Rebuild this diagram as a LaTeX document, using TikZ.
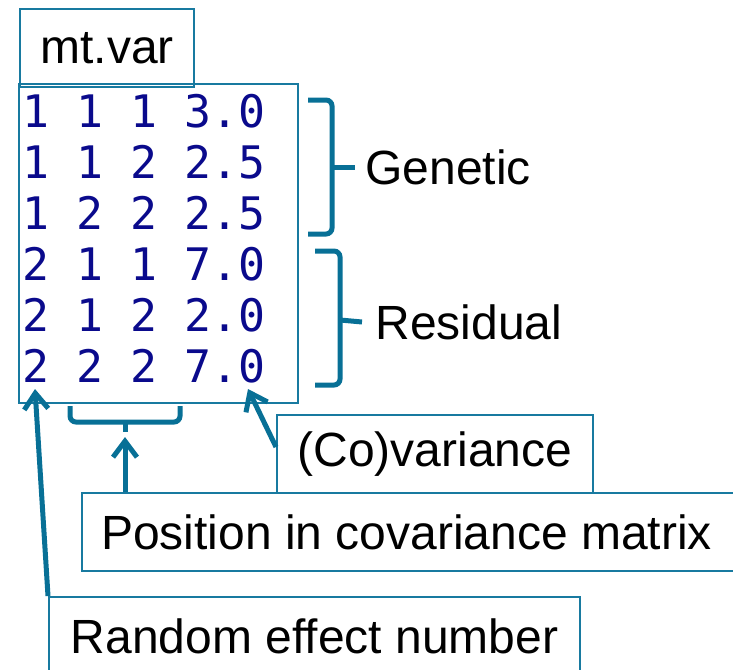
\documentclass[tikz,border=0pt]{standalone}
\usepackage{fontspec}
\setmainfont{Liberation Sans}
\newfontfamily\termfont{DejaVu Sans Mono}
\usepackage{tikz}
\usetikzlibrary{arrows.meta,positioning,calc}
\usepackage{xcolor}
\definecolor{frameblue}{RGB}{24,122,160}
\definecolor{markblue}{RGB}{8,112,150}
\definecolor{termnavy}{RGB}{10,10,140}

\begin{document}
\begin{tikzpicture}[
  x=0.5pt, y=-0.5pt,
  labelbox/.style={draw=frameblue, line width=1pt, inner sep=0pt, font=\fontsize{24}{28}\selectfont},
  termrow/.style={anchor=base west, inner sep=0pt, text=termnavy, font=\termfont\fontsize{22.4}{26}\selectfont},
  sidelabel/.style={anchor=west, inner sep=0pt, font=\fontsize{24}{28}\selectfont},
  pointer/.style={draw=markblue, line width=2.5pt, -{Straight Barb[length=8pt,width=12pt]}},
  bracket/.style={draw=markblue, line width=2.5pt, rounded corners=3pt}
]
\useasboundingbox (0,0) rectangle (733,669);

% File name and its contents
\node[labelbox, minimum width=87pt, minimum height=39pt] (title) at (107,48) {mt.var};
\node[draw=frameblue, line width=1pt, minimum width=139.5pt, minimum height=159.5pt] (table) at (158.5,243.5) {};
\node[termrow] (row1) at (22,127) {1 1 1 3.0};
\node[termrow] (row2) at (22,178) {1 1 2 2.5};
\node[termrow] (row3) at (22,229) {1 2 2 2.5};
\node[termrow] (row4) at (22,280) {2 1 1 7.0};
\node[termrow] (row5) at (22,331) {2 1 2 2.0};
\node[termrow] (row6) at (22,382) {2 2 2 7.0};

% Braces on the right
\node[sidelabel] (gen) at (365,167) {Genetic};
\node[sidelabel] (res) at (375,322) {Residual};
\draw[bracket] (308,100) -- (332,100) -- (332,234) -- (308,234);
\draw[bracket] (332,167) -- ([xshift=-5pt]gen.west);
\draw[bracket] (315,251) -- (340,251) -- (340,385) -- (315,385);
\draw[bracket] (340,320) -- ([xshift=-6.5pt]res.west);

% Explanation boxes
\node[labelbox, minimum width=158pt, minimum height=39pt] (cov) at (435,454) {(Co)variance};
\node[labelbox, anchor=west, minimum height=39pt, text width=310pt, inner xsep=9.5pt, align=flush left] (pos) at (81,532) {Position in covariance matrix};
\node[labelbox, minimum width=265.5pt, minimum height=39pt] (rand) at (314.5,636) {Random effect number};

% Brace under the middle columns
\coordinate (pick) at (125,437);
\draw[bracket] (70,406) -- (70,422) -- (180,422) -- (180,406);
\draw[bracket] (125,422) -- (125,432);

% Pointers
\coordinate (lastzero) at (248,389);
\coordinate (firstdigit) at (35,389);
\draw[pointer] (pos.north -| pick) -- (pick);
\draw[pointer] ([yshift=3.5pt]cov.west) -- (lastzero);
\draw[pointer] (rand.north west) -- (firstdigit);

\end{tikzpicture}
\end{document}
